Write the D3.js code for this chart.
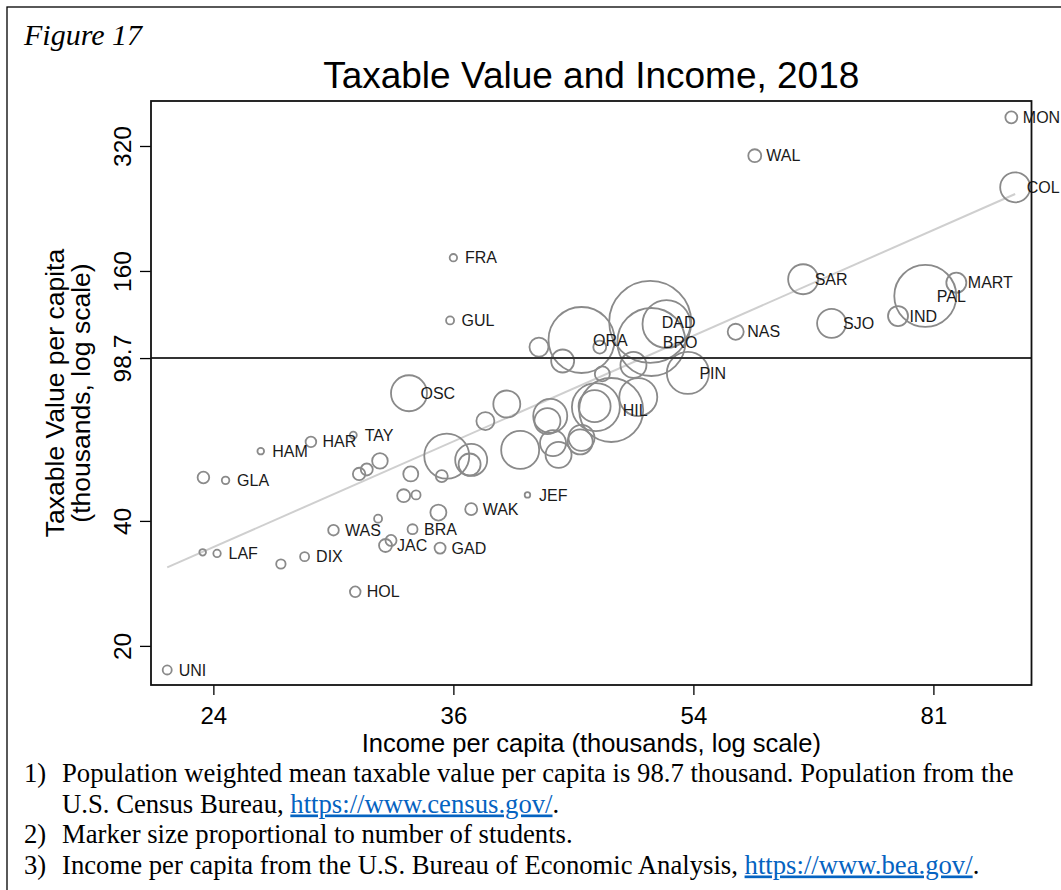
<!DOCTYPE html>
<html>
<head>
<meta charset="utf-8">
<script src="https://cdn.jsdelivr.net/npm/d3@7"></script>
<style>
  body { margin: 0; background: #fff; }
  svg { display: block; }
</style>
</head>
<body>
<svg id="chart" width="1061" height="890"></svg>
<script>
// county labels ("" = unlabeled marker)
const countyCodes = [
  "MON", "COL", "WAL", "SAR", "MART", "PAL", "IND", "SJO", "NAS", "DAD",
  "BRO", "ORA", "PIN", "HIL", "OSC", "FRA", "GUL", "TAY", "HAR", "HAM",
  "GLA", "LAF", "DIX", "WAS", "JAC", "BRA", "GAD", "WAK", "JEF", "HOL",
  "UNI",
  "", "", "", "", "", "", "", "", "", "",
  "", "", "", "", "", "", "", "", "", "",
  "", "", "", "", "", "", "", "", "", "",
  "", "", "", ""
];
// income per capita, thousands
const incomePc = [
  92.4, 93.0, 59.9, 65.0, 84.2, 79.9, 76.3, 68.2, 58.0, 50.2,
  50.3, 44.7, 53.5, 47.0, 33.4, 36.0, 35.8, 30.4, 28.3, 26.0,
  24.5, 24.15, 28.0, 29.4, 32.1, 33.6, 35.2, 37.1, 40.8, 30.5,
  22.2,
  23.6, 23.57, 26.9, 30.7, 31.1, 31.8, 33.5, 33.1, 33.8, 35.1,
  31.7, 32.4, 35.6, 37.1, 37.0, 35.3, 38.0, 39.4, 40.3, 42.4,
  42.2, 42.6, 43.0, 44.6, 44.7, 45.8, 45.7, 49.2, 46.3, 48.8,
  41.6, 43.3, 46.1, 51.6
];
// taxable value per capita, thousands
const taxablePc = [
  375.2, 254.5, 303.2, 152.8, 149.9, 139.3, 124.6, 119.7, 114.2, 120.6,
  107.9, 109.1, 90.9, 74.0, 81.2, 172.2, 121.6, 64.4, 62.0, 58.9,
  50.1, 33.4, 32.8, 38.0, 34.9, 38.2, 34.4, 42.7, 46.2, 27.0,
  17.5,
  50.9, 33.6, 31.5, 51.9, 53.2, 55.8, 51.9, 46.0, 46.2, 41.9,
  40.5, 35.9, 57.3, 56.1, 54.7, 51.3, 69.6, 76.5, 59.3, 71.6,
  69.6, 61.6, 57.7, 62.0, 63.4, 75.2, 75.6, 79.5, 90.4, 95.0,
  104.9, 97.1, 104.9, 119.2
];
// students, thousands
const students = [
  6.5, 40.7, 7.6, 40.7, 18.1, 174, 18.1, 38.0, 11.6, 304,
  209, 197, 80, 185, 58.6, 2.5, 2.9, 2.2, 5.1, 2.0,
  2.6, 2.5, 3.7, 5.1, 7.6, 4.5, 5.5, 6.5, 1.4, 5.1,
  3.7,
  6.1, 2.0, 4.0, 7.0, 6.5, 11.0, 10.2, 7.6, 3.7, 11.6,
  2.9, 5.5, 91.5, 46.3, 21.9, 6.5, 14.6, 32.9, 65.3, 52.3,
  30.6, 30.6, 30.6, 28.3, 30.6, 104, 46.3, 65.3, 10.2, 30.6,
  16.3, 23.9, 7.6, 104
];
// fitted line (log-log), endpoints
const fitIncome = [22.2, 93.0];
const fitTaxable = [30.9, 245.2];
const meanTaxable = 98.7;

const xTicks = [24, 36, 54, 81];
const yTicks = [20, 40, 98.7, 160, 320];

const footnotes = [
  { num: "1)", parts: [{ t: "Population weighted mean taxable value per capita is 98.7 thousand. Population from the" }] },
  { num: "", parts: [{ t: "U.S. Census Bureau, " }, { t: "https://www.census.gov/", link: true }, { t: "." }] },
  { num: "2)", parts: [{ t: "Marker size proportional to number of students." }] },
  { num: "3)", parts: [{ t: "Income per capita from the U.S. Bureau of Economic Analysis, " }, { t: "https://www.bea.gov/", link: true }, { t: "." }] }
];

const points = countyCodes.map((c, i) => ({
  code: c, income: incomePc[i], taxable: taxablePc[i], students: students[i]
}));

const plot = { left: 151, right: 1031.5, top: 101, bottom: 685 };

const svg = d3.select("#chart");
svg.append("rect").attr("width", 1061).attr("height", 890).attr("fill", "#fff");

// outer figure border
svg.append("rect")
  .attr("x", 7).attr("y", 7).attr("width", 1070).attr("height", 900)
  .attr("fill", "none").attr("stroke", "#000").attr("stroke-width", 1.3);

svg.append("text")
  .attr("x", 24).attr("y", 45)
  .attr("font-family", "Liberation Serif, Times New Roman, serif")
  .attr("font-style", "italic")
  .attr("font-size", 30)
  .text("Figure 17");

svg.append("text")
  .attr("x", (plot.left + plot.right) / 2).attr("y", 88)
  .attr("text-anchor", "middle")
  .attr("font-family", "Liberation Sans, Arial, sans-serif")
  .attr("font-size", 37)
  .text("Taxable Value and Income, 2018");

const x = d3.scaleLog().domain([21.6, 95.6]).range([plot.left, plot.right]);
const y = d3.scaleLog().domain([16.1, 410.7]).range([plot.bottom, plot.top]);
const r = d3.scaleSqrt().domain([0, 350]).range([0, 44]);

const sans = "Liberation Sans, Arial, sans-serif";

// x axis
const gx = svg.append("g").attr("transform", `translate(0,${plot.bottom})`)
  .call(d3.axisBottom(x).tickValues(xTicks).tickSize(10).tickFormat(d3.format("d")));
gx.select(".domain").remove();
gx.selectAll(".tick line").attr("stroke", "#000").attr("stroke-width", 1.3);
gx.selectAll(".tick text")
  .attr("y", 38.5).attr("dy", 0)
  .attr("font-family", sans).attr("font-size", 24).attr("fill", "#000");

// y axis
const gy = svg.append("g").attr("transform", `translate(${plot.left},0)`)
  .call(d3.axisLeft(y).tickValues(yTicks).tickSize(11).tickFormat(d => String(d)));
gy.select(".domain").remove();
gy.selectAll(".tick line").attr("stroke", "#000").attr("stroke-width", 1.3);
gy.selectAll(".tick text")
  .attr("x", 0).attr("y", -20).attr("dy", 0)
  .attr("transform", "rotate(-90)")
  .attr("text-anchor", "middle")
  .attr("font-family", sans).attr("font-size", 24.5).attr("fill", "#000");

svg.append("text")
  .attr("x", (plot.left + plot.right) / 2).attr("y", 752)
  .attr("text-anchor", "middle")
  .attr("font-family", sans).attr("font-size", 25.5)
  .text("Income per capita (thousands, log scale)");

const yMid = (plot.top + plot.bottom) / 2;
[["Taxable Value per capita", 64], ["(thousands, log scale)", 90]].forEach(([t, bx]) => {
  svg.append("text")
    .attr("transform", `translate(${bx},${yMid}) rotate(-90)`)
    .attr("text-anchor", "middle")
    .attr("font-family", sans).attr("font-size", 26.5)
    .text(t);
});

// fitted line
const line = d3.line().x(d => x(d[0])).y(d => y(d[1]));
svg.append("path")
  .attr("d", line(fitIncome.map((v, i) => [v, fitTaxable[i]])))
  .attr("fill", "none").attr("stroke", "#cfcfcf").attr("stroke-width", 2);

// markers
svg.append("g")
  .selectAll("circle")
  .data(points)
  .join("circle")
  .attr("cx", d => x(d.income))
  .attr("cy", d => y(d.taxable))
  .attr("r", d => r(d.students))
  .attr("fill", "none")
  .attr("stroke", "#8a8a8a")
  .attr("stroke-width", 1.8);

// mean line
svg.append("line")
  .attr("x1", plot.left).attr("x2", plot.right)
  .attr("y1", y(meanTaxable)).attr("y2", y(meanTaxable))
  .attr("stroke", "#333").attr("stroke-width", 2);

// labels
svg.append("g")
  .selectAll("text")
  .data(points.filter(d => d.code))
  .join("text")
  .attr("x", d => x(d.income) + 11.5)
  .attr("y", d => y(d.taxable))
  .attr("dy", "0.35em")
  .attr("font-family", sans).attr("font-size", 16).attr("fill", "#1a1a1a")
  .text(d => d.code);

// plot frame
svg.append("rect")
  .attr("x", plot.left).attr("y", plot.top)
  .attr("width", plot.right - plot.left).attr("height", plot.bottom - plot.top)
  .attr("fill", "none").attr("stroke", "#111").attr("stroke-width", 1.8);

// footnotes
const serif = "Liberation Serif, Times New Roman, serif";
footnotes.forEach((f, i) => {
  const by = 782 + i * 30.5;
  if (f.num) {
    svg.append("text").attr("x", 24).attr("y", by)
      .attr("font-family", serif).attr("font-size", 26.7).text(f.num);
  }
  const t = svg.append("text").attr("x", 62).attr("y", by)
    .attr("font-family", serif).attr("font-size", 26.7);
  f.parts.forEach(p => {
    const ts = t.append("tspan").text(p.t);
    if (p.link) ts.attr("fill", "#0563C1").attr("text-decoration", "underline");
  });
});
</script>
</body>
</html>
